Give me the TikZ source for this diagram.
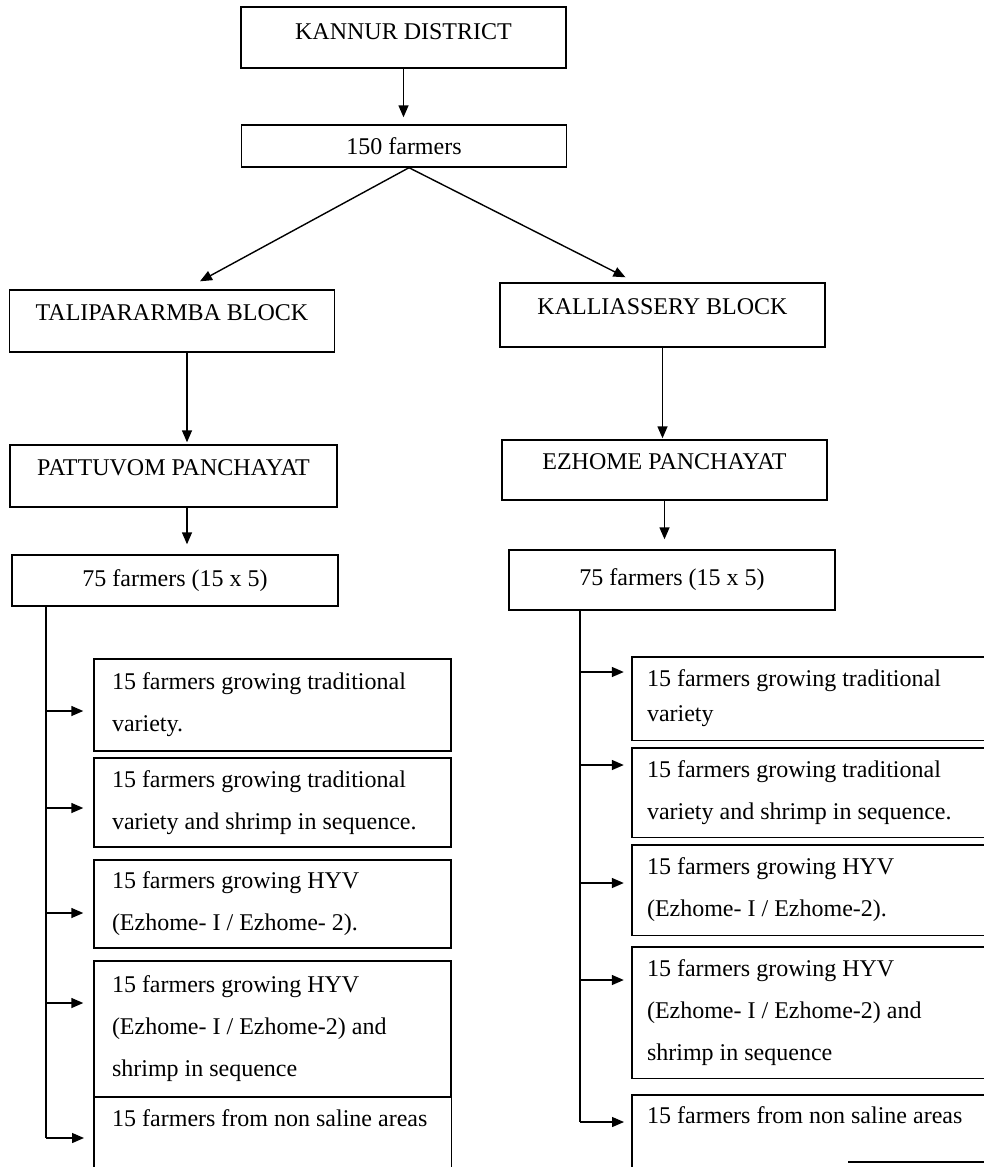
\documentclass[tikz,border=0pt]{standalone}
\usepackage{fontspec}
\setmainfont{Liberation Serif}
\usetikzlibrary{arrows.meta,calc}
\begin{document}
\begin{tikzpicture}[x=1pt,y=-1pt,
  every node/.style={font=\fontsize{24}{42}\selectfont},
  frm/.style={line width=1.4pt},
  ln/.style={line width=1.4pt},
  arr/.style={line width=1.4pt,-{Triangle[length=12pt,width=10pt]}},
  hbox/.style={draw,line width=1.4pt,inner sep=0pt,minimum width=325pt},
  lsub/.style={draw,line width=1.4pt,inner xsep=18pt,inner ysep=0pt,text width=321pt,align=flush left},
  lsubopen/.style={inner xsep=18pt,inner ysep=12pt,text width=321pt,align=flush left},
  rsub/.style={inner xsep=15pt,inner ysep=0pt,text width=322pt,align=flush left}
]
\useasboundingbox (0,0) rectangle (984,1167);
\coordinate (bot) at (0,1167);

% top levels
\node[hbox,minimum height=61pt,text depth=11pt] (kan) at (403.5,37.5) {KANNUR DISTRICT};
\node[hbox,minimum height=42pt] (f150) at (404,146) {150 farmers};
\node[hbox,minimum height=62pt,text depth=16pt] (tal) at (172,321) {TALIPARARMBA BLOCK};
\node[hbox,minimum height=64pt,text depth=16pt] (kal) at (662.5,315) {KALLIASSERY BLOCK};
\node[hbox,minimum width=327pt,minimum height=62pt,text depth=16pt] (pat) at (173.5,476) {PATTUVOM PANCHAYAT};
\node[hbox,minimum height=60pt,text depth=16pt] (ezh) at (664.5,470) {EZHOME PANCHAYAT};
\node[hbox,minimum width=326pt,minimum height=51pt] (l75) at (175,580.5) {75 farmers (15 x 5)};
\node[hbox,minimum width=326pt,minimum height=60pt] (r75) at (672,580) {75 farmers (15 x 5)};

\draw[arr,shorten >=7pt] (kan.south) -- (kan.south |- f150.north);
\draw[arr] ([xshift=5pt]f150.south) -- ([xshift=28pt,yshift=8pt]tal.north);
\draw[arr] ([xshift=5pt]f150.south) -- ([xshift=-37pt,yshift=5pt]kal.north);
\draw[arr,shorten >=2pt] ([xshift=15pt]tal.south) -- ([xshift=15pt]tal.south |- pat.north);
\draw[arr,shorten >=1pt] (kal.south) -- (kal.south |- ezh.north);
\draw[arr,shorten >=10pt] ([xshift=13.5pt]pat.south) -- ([xshift=13.5pt]pat.south |- l75.north);
\draw[arr,shorten >=10pt] (ezh.south) -- (ezh.south |- r75.north);

% left sub boxes
\node[lsub,minimum height=92pt] (l1) at (272.5,705) {\mbox{15 farmers growing traditional}\\variety.};
\node[lsub,minimum height=89pt] (l2) at (272.5,802.5) {\mbox{15 farmers growing traditional}\\\mbox{variety and shrimp in sequence.}};
\node[lsub,minimum height=88pt] (l3) at (272.5,904) {15 farmers growing HYV\\\mbox{(Ezhome- I / Ezhome- 2).}};
\node[lsub,minimum height=136pt] (l4) at (272.5,1029) {15 farmers growing HYV\\\mbox{(Ezhome- I / Ezhome-2) and}\\shrimp in sequence};
\node[lsubopen,anchor=north west] (l5) at (94,1097) {\mbox{15 farmers from non saline areas}};
\draw[frm] (l5.north west |- bot) -- (l5.north west) -- (l5.north east) -- (l5.north east |- bot);

% right sub boxes (open to the right edge)
\node[rsub,minimum height=83pt,font=\fontsize{24}{35}\selectfont] (r1) at (808,698.5) {\mbox{15 farmers growing traditional}\\variety};
\node[rsub,minimum height=89pt] (r2) at (808,792.5) {\mbox{15 farmers growing traditional}\\\mbox{variety and shrimp in sequence.}};
\node[rsub,minimum height=90pt] (r3) at (808,890) {15 farmers growing HYV\\\mbox{(Ezhome- I / Ezhome-2).}};
\node[rsub,minimum height=131pt] (r4) at (808,1012.5) {15 farmers growing HYV\\\mbox{(Ezhome- I / Ezhome-2) and}\\shrimp in sequence};
\node[rsub,inner ysep=11pt,anchor=north west] (r5) at (632,1095) {\mbox{15 farmers from non saline areas}};
\foreach \b in {r1,r2,r3,r4}{
  \draw[frm] (\b.north east) -- (\b.north west) -- (\b.south west) -- (\b.south east);
}
\draw[frm] (r5.north east) -- (r5.north west) -- (r5.north west |- bot);
\coordinate (rb) at (848,1162);
\draw[frm] (rb) -- (rb -| r5.north east);

% left trunk
\coordinate (la1) at (46,711);
\coordinate (la2) at (46,808);
\coordinate (la3) at (46,913);
\coordinate (la4) at (46,1003);
\coordinate (la5) at (46,1138);
\draw[ln] (l75.south -| la1) -- (la5);
\foreach \i in {1,...,5}{
  \draw[arr,shorten >=10pt] (la\i) -- (la\i -| l\i.west);
}

% right trunk
\coordinate (ra1) at (580,672);
\coordinate (ra2) at (580,765);
\coordinate (ra3) at (580,883);
\coordinate (ra4) at (580,980);
\coordinate (ra5) at (580,1122);
\draw[ln] (r75.south -| ra1) -- (ra5);
\foreach \i in {1,...,5}{
  \draw[arr,shorten >=8pt] (ra\i) -- (ra\i -| r\i.west);
}
\end{tikzpicture}
\end{document}
